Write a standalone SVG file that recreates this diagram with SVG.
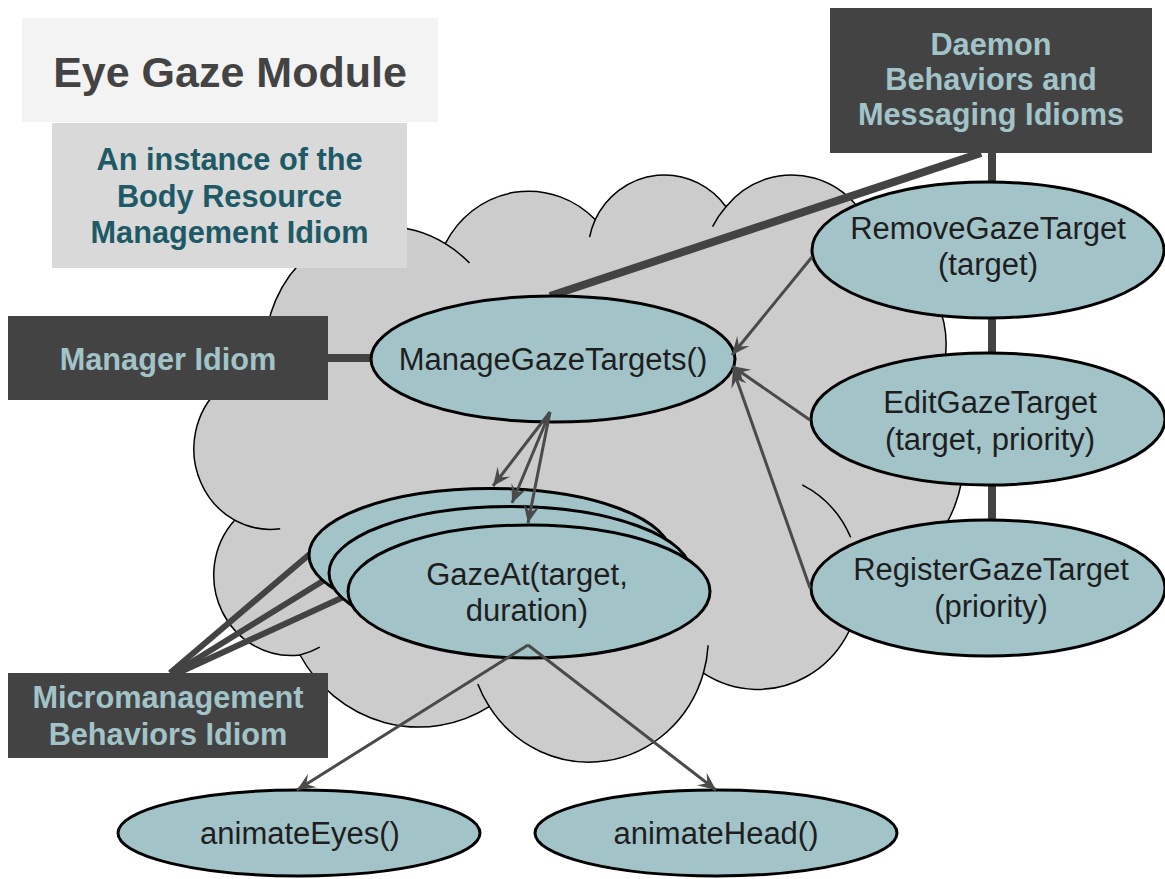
<svg xmlns="http://www.w3.org/2000/svg" width="1165" height="879" viewBox="0 0 1165 879">
  <defs>
    <style>
      .cloud { fill: #cccccc; stroke: #000000; stroke-width: 1.5; }
      .cloud-inner { fill: none; stroke: #000000; stroke-width: 1.5; }
      .node { fill: #a2c4c9; stroke: #000000; stroke-width: 3; }
      .dark { fill: #434343; }
      .label-dark { font-family: "Liberation Sans", Arial, sans-serif; font-weight: bold; font-size: 30.7px; fill: #a2c4c9; text-anchor: middle; }
      .label-node { font-family: "Liberation Sans", Arial, sans-serif; font-size: 31px; fill: #1e1e1e; text-anchor: middle; }
      .thick { stroke: #434343; stroke-width: 8; fill: none; }
      .micro { stroke: #434343; stroke-width: 6; fill: none; }
      .arrow { stroke: #4a4a4a; stroke-width: 3; fill: none; marker-end: url(#head); }
    </style>
    <marker id="head" viewBox="-19 -9 20 18" refX="0" refY="0" markerWidth="20" markerHeight="18" markerUnits="userSpaceOnUse" orient="auto">
      <path d="M0,0 L-18,-8 L-11,0 L-18,8 Z" fill="#4a4a4a"/>
    </marker>
  </defs>

  <rect width="1165" height="879" fill="#ffffff"/>

  <!-- background cloud -->
  <g id="cloud">
    <path class="cloud" d="M266.2,368.3 A119.74,124.87 0 0 1 445.3,243.7 A94.56,98.75 0 0 1 595.2,219.6 A77.4,80.78 0 0 1 726,206.7 A86.12,89.61 0 0 1 876.5,248.8 A94.56,98.83 0 0 1 938.5,383.1 A120.13,125.28 0 0 1 860.3,583.4 A102.57,106.9 0 0 1 703.4,673.2 A119.72,125.21 0 0 1 489.3,706.6 A136.88,143.26 0 0 1 300,655 A77.31,80.41 0 0 1 234.6,520.2 A77.04,80.78 0 0 1 266.2,368.3 Z"/>
    <path class="cloud-inner" d="M445.3,243.7 A119.74,124.87 0 0 1 469.5,263.1 M589.6,237.1 A77.4,80.78 0 0 1 595.2,219.6 M712.6,226.7 A86.12,89.61 0 0 1 726,206.7 M876.5,248.8 A86.12,89.61 0 0 1 877.8,265.9 M802.2,484.9 A102.57,106.9 0 0 1 850.7,537.4 M708.1,645.2 A119.72,125.21 0 0 1 703.4,673.3 M489.3,706.6 A119.72,125.21 0 0 1 477.8,683.9 M319.8,647.2 A77.31,80.41 0 0 1 300,655 M280.2,528.7 A77.04,80.78 0 0 1 234.6,520.2 M270.2,387.5 A119.74,124.87 0 0 1 266.2,368.3"/>
  </g>

  <!-- idiom links (thick) -->
  <g id="links">
    <line class="thick" x1="981" y1="153" x2="550" y2="296"/>
    <line class="thick" x1="992" y1="153" x2="992" y2="183"/>
    <line class="thick" x1="992" y1="317" x2="992" y2="354"/>
    <line class="thick" x1="992" y1="484" x2="992" y2="521"/>
    <line class="thick" x1="328" y1="358" x2="372" y2="358"/>
    <line class="micro" x1="170" y1="673" x2="311" y2="553"/>
    <line class="micro" x1="174" y1="673" x2="331" y2="576"/>
    <line class="micro" x1="178" y1="673" x2="350" y2="594"/>
  </g>

  <g id="title">
    <rect x="22" y="18" width="416" height="104" fill="#f3f3f3"/>
    <text x="230" y="87" font-family="Liberation Sans, Arial, sans-serif" font-weight="bold" font-size="43px" fill="#434343" text-anchor="middle">Eye Gaze Module</text>
  </g>

  <g id="body-resource">
    <rect x="52" y="123" width="355" height="145" fill="#d9d9d9"/>
    <text class="label-dark" style="fill:#1d5a66" x="229.5" y="170">An instance of the</text>
    <text class="label-dark" style="fill:#1d5a66" x="229.5" y="207">Body Resource</text>
    <text class="label-dark" style="fill:#1d5a66" x="229.5" y="243">Management Idiom</text>
  </g>

  <g id="daemon">
    <rect class="dark" x="830" y="8" width="322" height="145"/>
    <text class="label-dark" x="991" y="55">Daemon</text>
    <text class="label-dark" x="991" y="90">Behaviors and</text>
    <text class="label-dark" x="991" y="125">Messaging Idioms</text>
  </g>

  <g id="manager">
    <rect class="dark" x="8" y="316" width="320" height="84"/>
    <text class="label-dark" x="168" y="370">Manager Idiom</text>
  </g>

  <g id="micromanagement">
    <rect class="dark" x="8" y="673" width="320" height="85"/>
    <text class="label-dark" x="168" y="708">Micromanagement</text>
    <text class="label-dark" x="168" y="745">Behaviors Idiom</text>
  </g>

  <g id="manage-gaze-targets">
    <ellipse class="node" cx="553" cy="359" rx="182" ry="63"/>
    <text class="label-node" x="553" y="370">ManageGazeTargets()</text>
  </g>

  <g id="remove-gaze-target">
    <ellipse class="node" cx="988" cy="250" rx="176" ry="68"/>
    <text class="label-node" x="988" y="239">RemoveGazeTarget</text>
    <text class="label-node" x="988" y="275">(target)</text>
  </g>

  <g id="edit-gaze-target">
    <ellipse class="node" cx="988" cy="419" rx="177" ry="66"/>
    <text class="label-node" x="990" y="413">EditGazeTarget</text>
    <text class="label-node" x="990" y="450">(target, priority)</text>
  </g>

  <g id="register-gaze-target">
    <ellipse class="node" cx="988" cy="588" rx="177" ry="68"/>
    <text class="label-node" x="991" y="580">RegisterGazeTarget</text>
    <text class="label-node" x="991" y="617">(priority)</text>
  </g>

  <g id="gaze-at">
    <ellipse class="node" cx="490" cy="555" rx="181" ry="66.5"/>
    <ellipse class="node" cx="510" cy="573" rx="181" ry="66.5"/>
    <ellipse class="node" cx="529" cy="591.5" rx="181" ry="66.5"/>
    <text class="label-node" x="527" y="585">GazeAt(target,</text>
    <text class="label-node" x="527" y="621">duration)</text>
  </g>

  <g id="animate-eyes">
    <ellipse class="node" cx="299" cy="833" rx="181" ry="43"/>
    <text class="label-node" x="300" y="844">animateEyes()</text>
  </g>

  <g id="animate-head">
    <ellipse class="node" cx="716" cy="833" rx="181" ry="43"/>
    <text class="label-node" x="716" y="844">animateHead()</text>
  </g>

  <!-- message arrows -->
  <g id="arrows">
    <line class="arrow" x1="812" y1="257" x2="732" y2="355"/>
    <line class="arrow" x1="810" y1="420" x2="732" y2="366"/>
    <line class="arrow" x1="810" y1="588" x2="733" y2="369"/>
    <line class="arrow" x1="550" y1="412" x2="493" y2="486"/>
    <line class="arrow" x1="550" y1="412" x2="512" y2="503"/>
    <line class="arrow" x1="550" y1="412" x2="528" y2="523"/>
    <polyline class="arrow" points="528,645 297,790" />
    <polyline class="arrow" points="528,645 716,790" />
  </g>
</svg>
